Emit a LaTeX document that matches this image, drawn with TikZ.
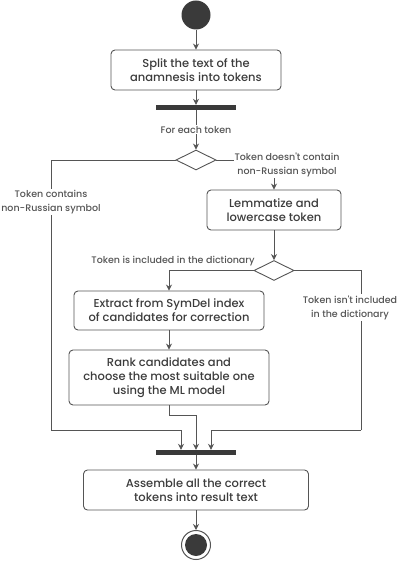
\documentclass[tikz,border=0pt]{standalone}
\usepackage{fontspec}
\setmainfont{Poppins}[UprightFont=* Medium]
\usetikzlibrary{arrows.meta,shapes.geometric}
\definecolor{linegray}{HTML}{555555}
\definecolor{darkfill}{HTML}{3A3A3A}
\definecolor{textgray}{HTML}{3C3C3C}
\tikzset{
	action/.style={draw=linegray, rounded corners=4pt, line width=0.9pt, text=textgray, align=center, font=\fontsize{11.5}{14}\selectfont, inner sep=0pt},
	decision/.style={diamond, draw=linegray, line width=0.9pt, minimum width=40pt, minimum height=20pt, inner sep=0pt, aspect=2},
	bar/.style={fill=darkfill, minimum width=80pt, minimum height=5pt, inner sep=0pt},
	guard/.style={text=linegray, align=center, font=\fontsize{9.5}{14}\selectfont, inner sep=1pt},
	flow/.style={draw=linegray, line width=0.9pt, -{Stealth[length=6pt,width=6pt]}},
	wire/.style={draw=linegray, line width=0.9pt},
}
\begin{document}
\begin{tikzpicture}[x=1pt,y=-1pt]
	\useasboundingbox (0,0) rectangle (402,561);
	\node[circle, fill=darkfill, minimum size=29pt, inner sep=0pt] (start) at (196,15) {};
	\node[action, minimum width=170pt, minimum height=40pt] (split) at (196,70) {Split the text of the\\anamnesis into tokens};
	\node[bar] (fork) at (196,107.5) {};
	\node[decision] (dec1) at (196,160) {};
	\node[action, minimum width=134pt, minimum height=40pt] (lemma) at (274,210) {Lemmatize and\\lowercase token};
	\node[decision] (dec2) at (274,270.5) {};
	\node[action, minimum width=190pt, minimum height=39pt] (extract) at (169,310.5) {Extract from SymDel index\\of candidates for correction};
	\node[action, minimum width=200pt, minimum height=55pt] (rank) at (169,377.5) {Rank candidates and\\choose the most suitable one\\using the ML model};
	\node[bar] (join) at (196,452.5) {};
	\node[action, minimum width=225pt, minimum height=40pt] (assemble) at (196,490) {Assemble all the correct\\tokens into result text};
	\node[circle, draw=linegray, line width=1pt, minimum size=29pt, inner sep=0pt] (stop) at (196,545) {};
	\fill[darkfill] (stop) circle (11pt);

	\coordinate (leftcorner) at (51,430);
	\coordinate (rightcorner) at (361,430);

	\draw[flow] (start) -- (split);
	\draw[flow] (split) -- (fork);
	\draw[flow] (fork) -- node[guard, fill=white] {For each token} (dec1);
	\draw[wire] (dec1.west) -| (leftcorner) node[guard, fill=white, pos=0.578] {Token contains\\non-Russian symbol};
	\draw[flow] (leftcorner) -| ([xshift=-15pt]join.north);
	\draw[flow] (dec1.east) -| (lemma);
	\node[guard, fill=white] at (287,165) {Token doesn\textquotesingle t contain\\non-Russian symbol};
	\draw[flow] (lemma) -- (dec2);
	\draw[flow] (dec2.west) -| (extract);
	\node[guard] at (173,261) {Token is included in the dictionary};
	\draw[wire] (dec2.east) -| (rightcorner) node[guard, fill=white, pos=0.616, xshift=-11pt] {Token isn\textquotesingle t included\\in the dictionary};
	\draw[flow] (rightcorner) -| ([xshift=15pt]join.north);
	\draw[flow] (extract) -- (rank);
	\draw[flow] (rank.south) -- ++(0,10) -| (join);
	\draw[flow] (join) -- (assemble);
	\draw[flow] (assemble) -- (stop);
\end{tikzpicture}
\end{document}
